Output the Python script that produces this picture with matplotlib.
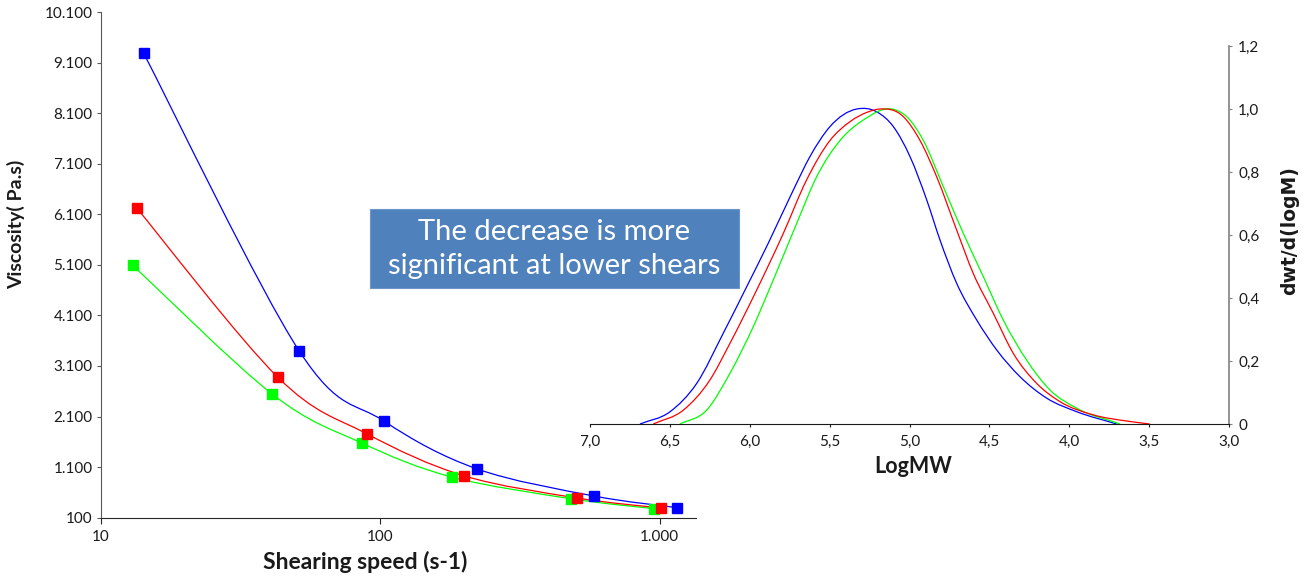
import numpy as np
import matplotlib
matplotlib.use('Agg')
import matplotlib.pyplot as plt
from matplotlib.path import Path
from matplotlib.patches import PathPatch, Rectangle

plt.rcParams['font.family'] = ['Lato', 'DejaVu Sans']

# viscosity vs shearing speed (3 samples)
shear_blue = [14.2, 51.2, 103.5, 222, 581, 1153]
visc_blue = [9290, 3400, 2005, 1065, 530, 300]
shear_red = [13.4, 43.0, 89.8, 199, 506, 1008]
visc_red = [6230, 2875, 1755, 930, 490, 292]
shear_green = [13.0, 41.0, 85.8, 180, 480, 955]
visc_green = [5090, 2545, 1577, 905, 476, 278]

# molecular weight distributions
logmw_blue = [6.687, 6.499, 6.332, 6.166, 6.019, 5.884, 5.727, 5.623, 5.498, 5.33,
              5.205, 5.101, 4.997, 4.892, 4.809, 4.705, 4.579, 4.454, 4.308, 4.141, 3.953, 3.703]
dwt_blue = [0.0, 0.039, 0.129, 0.288, 0.436, 0.574, 0.743, 0.849, 0.944, 1.0,
            0.991, 0.944, 0.849, 0.711, 0.584, 0.447, 0.330, 0.235, 0.150, 0.082, 0.039, 0.0]
logmw_red = [6.604, 6.416, 6.249, 6.124, 5.957, 5.79, 5.644, 5.498, 5.372, 5.258, 5.185,
             5.039, 4.934, 4.830, 4.705, 4.601, 4.475, 4.350, 4.204, 4.058, 3.850, 3.642, 3.496]
dwt_red = [0.0, 0.044, 0.14, 0.256, 0.425, 0.605, 0.775, 0.90, 0.96, 0.991, 1.0,
           0.976, 0.90, 0.785, 0.616, 0.478, 0.351, 0.224, 0.129, 0.071, 0.029, 0.0095, 0.0]
logmw_green = [6.437, 6.270, 6.124, 5.978, 5.853, 5.706, 5.581, 5.435, 5.289, 5.101,
               5.018, 4.913, 4.788, 4.663, 4.538, 4.413, 4.267, 4.121, 3.953, 3.682]
dwt_green = [0.0, 0.044, 0.161, 0.309, 0.457, 0.637, 0.785, 0.90, 0.965, 0.999,
             0.976, 0.90, 0.753, 0.605, 0.468, 0.330, 0.203, 0.108, 0.050, 0.0]

visc_ticks = np.arange(100, 10101, 1000)
dwt_ticks = [0, 0.2, 0.4, 0.6, 0.8, 1.0, 1.2]
logmw_ticks = [7.0, 6.5, 6.0, 5.5, 5.0, 4.5, 4.0, 3.5, 3.0]

box_text = 'The decrease is more\nsignificant at lower shears'

BLUE, RED, GREEN = '#0000FF', '#FF0000', '#00FF00'
TXT = '#1a1a1a'


def smooth_path(xs, ys, logx=False):
    # catmull-rom through the points, as bezier segments (like excel smoothed lines)
    xs = np.log10(xs) if logx else np.asarray(xs, float)
    pts = np.column_stack([xs, ys])
    P = np.vstack([pts[0], pts, pts[-1]])
    verts = [pts[0]]
    codes = [Path.MOVETO]
    for i in range(1, len(P) - 2):
        p0, p1, p2, p3 = P[i - 1], P[i], P[i + 1], P[i + 2]
        verts += [p1 + (p2 - p0) / 6, p2 - (p3 - p1) / 6, p2]
        codes += [Path.CURVE4] * 3
    verts = np.array(verts)
    if logx:
        verts[:, 0] = 10 ** verts[:, 0]
    return Path(verts, codes)


def hermite_path(xs, ys):
    # cubic hermite in x (uneven spacing), drawn as bezier segments
    x = np.asarray(xs, float)
    y = np.asarray(ys, float)
    h = np.diff(x)
    d = np.diff(y) / h
    m = np.empty_like(y)
    m[0], m[-1] = d[0], d[-1]
    m[1:-1] = (d[1:] * h[:-1] + d[:-1] * h[1:]) / (h[:-1] + h[1:])
    verts = [(x[0], y[0])]
    codes = [Path.MOVETO]
    for i in range(len(x) - 1):
        verts += [(x[i] + h[i] / 3, y[i] + m[i] * h[i] / 3),
                  (x[i + 1] - h[i] / 3, y[i + 1] - m[i + 1] * h[i] / 3),
                  (x[i + 1], y[i + 1])]
        codes += [Path.CURVE4] * 3
    return Path(verts, codes)


fig = plt.figure(figsize=(13.1, 5.77), dpi=100)

# ---- left: viscosity
ax = fig.add_axes([101 / 1310, 59.3 / 577, 595 / 1310, 505.7 / 577])
ax.set_xscale('log')
ax.set_xlim(10, 1350)
ax.set_ylim(100, 10100)

for xs, ys, c in [(shear_green, visc_green, GREEN), (shear_red, visc_red, RED),
                  (shear_blue, visc_blue, BLUE)]:
    ax.add_patch(PathPatch(smooth_path(xs, ys, logx=True), fill=False, edgecolor=c, lw=0.9))
    ax.plot(xs, ys, ls='none', marker='s', ms=7.5, color=c, mec=c)

ax.set_xticks([10, 100, 1000])
ax.set_xticklabels(['10', '100', '1.000'])
ax.xaxis.set_minor_locator(matplotlib.ticker.NullLocator())
ax.set_yticks(visc_ticks)
ax.set_yticklabels(['{:,}'.format(v).replace(',', '.') for v in visc_ticks])
for s in ['top', 'right']:
    ax.spines[s].set_visible(False)
ax.spines['left'].set_color('#595959')
ax.spines['bottom'].set_color('#262626')
ax.tick_params(axis='y', length=3, pad=3, labelsize=11, colors='#595959', labelcolor=TXT)
ax.tick_params(axis='x', length=4, pad=5, labelsize=11, colors='#262626', labelcolor=TXT)
ax.set_xlabel('Shearing speed (s-1)', fontsize=16.5, fontweight='bold', color=TXT)
ax.xaxis.set_label_coords(0.444, -0.066)
ax.set_ylabel('Viscosity( Pa.s)', fontsize=14, fontweight='bold', color=TXT)
ax.yaxis.set_label_coords(-0.128, 0.581)

# ---- right: molecular weight distribution
ax2 = fig.add_axes([590 / 1310, 153 / 577, 639 / 1310, 378 / 577])
ax2.patch.set_alpha(0)
ax2.set_xlim(7, 3)
ax2.set_ylim(0, 1.2)
for xs, ys, c in [(logmw_blue, dwt_blue, BLUE), (logmw_green, dwt_green, GREEN),
                  (logmw_red, dwt_red, RED)]:
    # x runs high -> low, reverse so spacing is positive
    ax2.add_patch(PathPatch(hermite_path(xs[::-1], ys[::-1]), fill=False, edgecolor=c, lw=0.9))

ax2.set_xticks(logmw_ticks)
ax2.set_xticklabels([('%.1f' % v).replace('.', ',') for v in logmw_ticks])
ax2.yaxis.tick_right()
ax2.yaxis.set_label_position('right')
ax2.set_yticks(dwt_ticks)
ax2.set_yticklabels(['0'] + [('%.1f' % v).replace('.', ',') for v in dwt_ticks[1:]])
for s in ['top', 'left']:
    ax2.spines[s].set_visible(False)
ax2.spines['right'].set_color('#808080')
ax2.spines['right'].set_linewidth(1.2)
ax2.spines['bottom'].set_color('#1a1a1a')
ax2.tick_params(axis='x', length=2.5, pad=5, labelsize=11, colors='#1a1a1a', labelcolor=TXT)
ax2.tick_params(axis='y', length=2.5, pad=4, labelsize=11, colors='#808080', labelcolor=TXT)
ax2.set_xlabel('LogMW', fontsize=15.5, fontweight='bold', color=TXT)
ax2.xaxis.set_label_coords(0.505, -0.085)
ax2.set_ylabel('dwt/d(logM)', fontsize=13.5, fontweight='bold', color=TXT,
               family='DejaVu Sans')
ax2.yaxis.set_label_coords(1.08, 0.513)

# ---- annotation box
fig.add_artist(Rectangle((370 / 1310, 289 / 577), 369 / 1310, 79 / 577,
                         transform=fig.transFigure, facecolor='#4F81BD',
                         edgecolor='#6d95c8', lw=0.8, zorder=5))
fig.text(554.5 / 1310, 1 - 249 / 577, box_text, ha='center', va='center',
         fontsize=21, color='white', linespacing=1.35, zorder=6)

fig.savefig('out.png', dpi=100)
